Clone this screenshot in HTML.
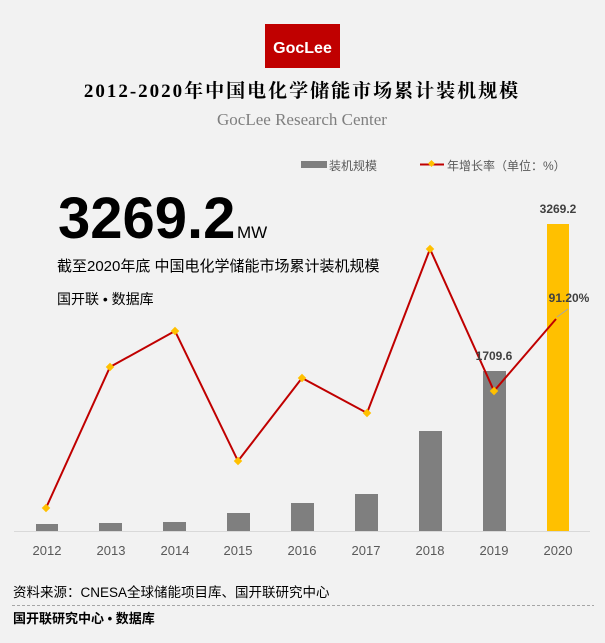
<!DOCTYPE html>
<html><head><meta charset="utf-8"><style>
body{margin:0;background:#f2f2f2;width:605px;height:643px;overflow:hidden}
svg{display:block}
</style></head><body>
<svg width="605" height="643" viewBox="0 0 605 643" xmlns="http://www.w3.org/2000/svg" font-family="Liberation Sans, Noto Sans CJK SC, sans-serif">
<rect width="605" height="643" fill="#f2f2f2"/>
<rect x="265" y="24" width="75" height="44" fill="#c00000"/>
<text x="302.5" y="53" text-anchor="middle" font-size="16" font-weight="bold" fill="#fff">GocLee</text>
<text x="302" y="97" text-anchor="middle" font-size="19" font-weight="bold" font-family="Liberation Serif, Noto Serif CJK SC, serif" fill="#000" letter-spacing="2">2012-2020年中国电化学储能市场累计装机规模</text>
<text x="302" y="125" text-anchor="middle" font-size="17" font-family="Liberation Serif, serif" fill="#7f7f7f">GocLee Research Center</text>
<rect x="301" y="161" width="26" height="7" fill="#7f7f7f"/>
<text x="329" y="170" font-size="12" fill="#595959">装机规模</text>
<line x1="420" y1="164.5" x2="444" y2="164.5" stroke="#c00000" stroke-width="2"/>
<rect x="429" y="161" width="5" height="5" fill="#ffc000" transform="rotate(45 431.5 163.5)"/>
<text x="447" y="170" font-size="12" fill="#595959">年增长率（单位：%）</text>
<text x="58" y="238" font-size="58" font-weight="bold" fill="#000">3269.2</text>
<text x="237" y="238" font-size="17" fill="#000">MW</text>
<text x="57" y="271" font-size="15" fill="#000">截至2020年底  中国电化学储能市场累计装机规模</text>
<text x="57" y="304" font-size="14" fill="#000">国开联 • 数据库</text>
<line x1="14" y1="531.5" x2="590" y2="531.5" stroke="#d9d9d9" stroke-width="1"/>
<g fill="#7f7f7f">
<rect x="36" y="524" width="22" height="7"/>
<rect x="99" y="523" width="23" height="8"/>
<rect x="163" y="522" width="23" height="9"/>
<rect x="227" y="513" width="23" height="18"/>
<rect x="291" y="503" width="23" height="28"/>
<rect x="355" y="494" width="23" height="37"/>
<rect x="419" y="431" width="23" height="100"/>
<rect x="483" y="371" width="23" height="160"/>
</g>
<rect x="547" y="224" width="22" height="307" fill="#ffc000"/>
<polyline points="46,508 110,367 175,331 238,461 302,378 367,413 430,249 494,391 556,319" fill="none" stroke="#c00000" stroke-width="2"/>
<line x1="557" y1="317" x2="568" y2="309" stroke="#a6a6a6" stroke-width="1"/>
<g fill="#ffc000">
<rect x="43" y="505" width="6" height="6" transform="rotate(45 46 508)"/>
<rect x="107" y="364" width="6" height="6" transform="rotate(45 110 367)"/>
<rect x="172" y="328" width="6" height="6" transform="rotate(45 175 331)"/>
<rect x="235" y="458" width="6" height="6" transform="rotate(45 238 461)"/>
<rect x="299" y="375" width="6" height="6" transform="rotate(45 302 378)"/>
<rect x="364" y="410" width="6" height="6" transform="rotate(45 367 413)"/>
<rect x="427" y="246" width="6" height="6" transform="rotate(45 430 249)"/>
<rect x="491" y="388" width="6" height="6" transform="rotate(45 494 391)"/>
</g>
<g font-size="12" font-weight="bold" fill="#404040" text-anchor="middle">
<text x="494" y="360">1709.6</text>
<text x="558" y="213">3269.2</text>
<text x="569" y="302">91.20%</text>
</g>
<g font-size="13" fill="#595959" text-anchor="middle">
<text x="47" y="555">2012</text><text x="111" y="555">2013</text><text x="175" y="555">2014</text>
<text x="238" y="555">2015</text><text x="302" y="555">2016</text><text x="366" y="555">2017</text>
<text x="430" y="555">2018</text><text x="494" y="555">2019</text><text x="558" y="555">2020</text>
</g>
<text x="13" y="597" font-size="13.5" fill="#000">资料来源：CNESA全球储能项目库、国开联研究中心</text>
<line x1="12" y1="605.5" x2="594" y2="605.5" stroke="#a6a6a6" stroke-dasharray="3,2"/>
<text x="13" y="623" font-size="13" font-weight="bold" fill="#000">国开联研究中心 • 数据库</text>
</svg>
</body></html>
